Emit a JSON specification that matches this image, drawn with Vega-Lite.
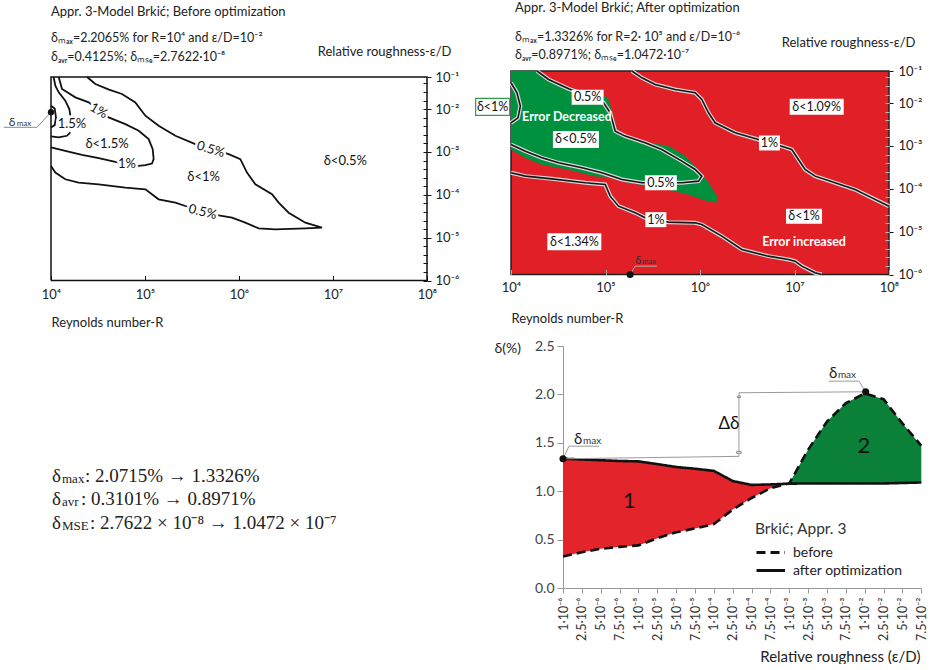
{
"$schema": "https://vega.github.io/schema/vega-lite/v6.json",
"background": "white",
"padding": {"left": 1, "top": 1, "right": 0, "bottom": 0},
"columns": 2,
"bounds": "flush",
"spacing": {"row": 65, "column": 84},
"resolve": {"legend": {"strokeDash": "independent", "shape": "independent"}},
"datasets": {
"tl_lines": [
{"curve":"A","seq":1,"logR":4.383,"logE":-1.25},{"curve":"A","seq":2,"logR":4.472,"logE":-1.413},{"curve":"A","seq":3,"logR":4.617,"logE":-1.546},{"curve":"A","seq":4,"logR":4.755,"logE":-1.647},{"curve":"A","seq":5,"logR":4.897,"logE":-1.842},{"curve":"A","seq":6,"logR":5.004,"logE":-2.154},{"curve":"A","seq":7,"logR":5.145,"logE":-2.388},{"curve":"A","seq":8,"logR":5.323,"logE":-2.622},{"curve":"A","seq":9,"logR":5.535,"logE":-2.817},{"curve":"A","seq":10,"logR":5.89,"logE":-3.051},{"curve":"A","seq":11,"logR":6.014,"logE":-3.168},{"curve":"A","seq":12,"logR":6.085,"logE":-3.48},{"curve":"A","seq":13,"logR":6.174,"logE":-3.754},{"curve":"A","seq":14,"logR":6.351,"logE":-3.988},{"curve":"A","seq":15,"logR":6.422,"logE":-4.183},{"curve":"A","seq":16,"logR":6.528,"logE":-4.417},{"curve":"A","seq":17,"logR":6.706,"logE":-4.651},{"curve":"A","seq":18,"logR":6.883,"logE":-4.768},{"curve":"A","seq":19,"logR":6.706,"logE":-4.783},{"curve":"A","seq":20,"logR":6.387,"logE":-4.807},{"curve":"A","seq":21,"logR":6.209,"logE":-4.783},{"curve":"A","seq":22,"logR":6.067,"logE":-4.651},{"curve":"A","seq":23,"logR":5.926,"logE":-4.534},{"curve":"A","seq":24,"logR":5.784,"logE":-4.479},{"curve":"A","seq":25,"logR":5.429,"logE":-4.261},{"curve":"A","seq":26,"logR":5.323,"logE":-4.183},{"curve":"A","seq":27,"logR":5.145,"logE":-4.105},{"curve":"A","seq":28,"logR":5.004,"logE":-3.871},{"curve":"A","seq":29,"logR":4.791,"logE":-3.832},{"curve":"A","seq":30,"logR":4.507,"logE":-3.754},{"curve":"A","seq":31,"logR":4.294,"logE":-3.715},{"curve":"A","seq":32,"logR":4.152,"logE":-3.637},{"curve":"A","seq":33,"logR":4.046,"logE":-3.48},{"curve":"A","seq":34,"logR":4.0,"logE":-3.325},
{"curve":"B","seq":1,"logR":4.082,"logE":-1.25},{"curve":"B","seq":2,"logR":4.117,"logE":-1.53},{"curve":"B","seq":3,"logR":4.259,"logE":-1.725},{"curve":"B","seq":4,"logR":4.401,"logE":-1.842},{"curve":"B","seq":5,"logR":4.613,"logE":-2.193},{"curve":"B","seq":6,"logR":4.791,"logE":-2.349},{"curve":"B","seq":7,"logR":4.933,"logE":-2.505},{"curve":"B","seq":8,"logR":5.039,"logE":-2.7},{"curve":"B","seq":9,"logR":5.082,"logE":-2.934},{"curve":"B","seq":10,"logR":5.092,"logE":-3.168},{"curve":"B","seq":11,"logR":5.074,"logE":-3.27},{"curve":"B","seq":12,"logR":5.004,"logE":-3.309},{"curve":"B","seq":13,"logR":4.933,"logE":-3.325},{"curve":"B","seq":14,"logR":4.684,"logE":-3.231},{"curve":"B","seq":15,"logR":4.507,"logE":-3.145},{"curve":"B","seq":16,"logR":4.33,"logE":-3.067},{"curve":"B","seq":17,"logR":4.152,"logE":-2.973},{"curve":"B","seq":18,"logR":4.0,"logE":-2.895},
{"curve":"C1","seq":1,"logR":4.028,"logE":-1.25},{"curve":"C1","seq":2,"logR":4.046,"logE":-1.452},{"curve":"C1","seq":3,"logR":4.082,"logE":-1.608},{"curve":"C1","seq":4,"logR":4.152,"logE":-1.803},{"curve":"C1","seq":5,"logR":4.195,"logE":-1.998},{"curve":"C1","seq":6,"logR":4.206,"logE":-2.154},
{"curve":"C2","seq":1,"logR":4.0,"logE":-2.638},{"curve":"C2","seq":2,"logR":4.082,"logE":-2.661},{"curve":"C2","seq":3,"logR":4.17,"logE":-2.622},{"curve":"C2","seq":4,"logR":4.206,"logE":-2.544},
{"curve":"C3","seq":1,"logR":4.0,"logE":-1.92},{"curve":"C3","seq":2,"logR":4.039,"logE":-1.983},{"curve":"C3","seq":3,"logR":4.053,"logE":-2.193},{"curve":"C3","seq":4,"logR":4.039,"logE":-2.373},{"curve":"C3","seq":5,"logR":4.0,"logE":-2.427}
],
"tl_frame": [
{"seq":1,"logR":4,"logE":-6},{"seq":2,"logR":4,"logE":-1.25},{"seq":3,"logR":8,"logE":-1.25},{"seq":4,"logR":8,"logE":-6},{"seq":5,"logR":4,"logE":-6}
],
"tl_labels": [
{"label":"1.5%","logR":4.223,"logE":-2.349},{"label":"δ<1.5%","logR":4.596,"logE":-2.817},{"label":"1%","logR":4.809,"logE":-3.285},{"label":"δ<1%","logR":5.624,"logE":-3.574},{"label":"δ<0.5%","logR":7.131,"logE":-3.207}
],
"tr_lines": [
{"curve":"U","seq":1,"logR":4.275,"logE":-1.25},{"curve":"U","seq":2,"logR":4.398,"logE":-1.447},{"curve":"U","seq":3,"logR":4.61,"logE":-1.665},{"curve":"U","seq":4,"logR":4.68,"logE":-1.72},{"curve":"U","seq":5,"logR":4.98,"logE":-1.992},{"curve":"U","seq":6,"logR":5.05,"logE":-2.226},{"curve":"U","seq":7,"logR":5.103,"logE":-2.654},{"curve":"U","seq":8,"logR":5.209,"logE":-2.77},{"curve":"U","seq":9,"logR":5.42,"logE":-2.926},{"curve":"U","seq":10,"logR":5.596,"logE":-3.082},{"curve":"U","seq":11,"logR":5.808,"logE":-3.354},{"curve":"U","seq":12,"logR":5.949,"logE":-3.549},{"curve":"U","seq":13,"logR":6.019,"logE":-3.704},{"curve":"U","seq":14,"logR":5.984,"logE":-3.821},{"curve":"U","seq":15,"logR":5.808,"logE":-3.86},{"curve":"U","seq":16,"logR":5.596,"logE":-3.86},{"curve":"U","seq":17,"logR":5.385,"logE":-3.86},{"curve":"U","seq":18,"logR":5.174,"logE":-3.782},{"curve":"U","seq":19,"logR":4.962,"logE":-3.626},{"curve":"U","seq":20,"logR":4.751,"logE":-3.51},{"curve":"U","seq":21,"logR":4.504,"logE":-3.393},{"curve":"U","seq":22,"logR":4.328,"logE":-3.276},{"curve":"U","seq":23,"logR":4.152,"logE":-3.121},{"curve":"U","seq":24,"logR":4.0,"logE":-2.965},
{"curve":"L1","seq":1,"logR":4.0,"logE":-3.626},{"curve":"L1","seq":2,"logR":4.152,"logE":-3.704},{"curve":"L1","seq":3,"logR":4.433,"logE":-3.767},{"curve":"L1","seq":4,"logR":4.786,"logE":-3.86},{"curve":"L1","seq":5,"logR":4.997,"logE":-3.899},{"curve":"L1","seq":6,"logR":5.05,"logE":-4.171},{"curve":"L1","seq":7,"logR":5.138,"logE":-4.405},{"curve":"L1","seq":8,"logR":5.315,"logE":-4.56},{"curve":"L1","seq":9,"logR":5.42,"logE":-4.677},{"curve":"L1","seq":10,"logR":5.667,"logE":-4.778},{"curve":"L1","seq":11,"logR":5.949,"logE":-4.794},{"curve":"L1","seq":12,"logR":6.019,"logE":-4.833},{"curve":"L1","seq":13,"logR":6.231,"logE":-5.105},{"curve":"L1","seq":14,"logR":6.442,"logE":-5.416},{"curve":"L1","seq":15,"logR":6.724,"logE":-5.572},{"curve":"L1","seq":16,"logR":6.936,"logE":-5.65},{"curve":"L1","seq":17,"logR":7.006,"logE":-5.689},{"curve":"L1","seq":18,"logR":7.077,"logE":-5.805},{"curve":"L1","seq":19,"logR":7.218,"logE":-5.961},{"curve":"L1","seq":20,"logR":7.288,"logE":-6.0},
{"curve":"U1","seq":1,"logR":5.279,"logE":-1.25},{"curve":"U1","seq":2,"logR":5.385,"logE":-1.409},{"curve":"U1","seq":3,"logR":5.526,"logE":-1.564},{"curve":"U1","seq":4,"logR":5.737,"logE":-1.681},{"curve":"U1","seq":5,"logR":5.949,"logE":-1.759},{"curve":"U1","seq":6,"logR":6.019,"logE":-1.914},{"curve":"U1","seq":7,"logR":6.09,"logE":-2.226},{"curve":"U1","seq":8,"logR":6.16,"logE":-2.459},{"curve":"U1","seq":9,"logR":6.372,"logE":-2.693},{"curve":"U1","seq":10,"logR":6.618,"logE":-2.848},{"curve":"U1","seq":11,"logR":6.865,"logE":-3.004},{"curve":"U1","seq":12,"logR":6.971,"logE":-3.082},{"curve":"U1","seq":13,"logR":7.041,"logE":-3.315},{"curve":"U1","seq":14,"logR":7.112,"logE":-3.549},{"curve":"U1","seq":15,"logR":7.218,"logE":-3.704},{"curve":"U1","seq":16,"logR":7.429,"logE":-3.86},{"curve":"U1","seq":17,"logR":7.641,"logE":-4.016},{"curve":"U1","seq":18,"logR":7.782,"logE":-4.171},{"curve":"U1","seq":19,"logR":8.0,"logE":-4.405},
{"curve":"LF","seq":1,"logR":4.0,"logE":-1.525},{"curve":"LF","seq":2,"logR":4.063,"logE":-1.759},{"curve":"LF","seq":3,"logR":4.099,"logE":-2.07},{"curve":"LF","seq":4,"logR":4.074,"logE":-2.342},{"curve":"LF","seq":5,"logR":4.0,"logE":-2.459}
],
"tr_green": [
{"seq":1,"logR":4.0,"logE":-1.25},{"seq":2,"logR":4.275,"logE":-1.25},{"seq":3,"logR":4.398,"logE":-1.447},{"seq":4,"logR":4.61,"logE":-1.642},{"seq":5,"logR":4.751,"logE":-1.72},{"seq":6,"logR":4.962,"logE":-1.798},{"seq":7,"logR":5.033,"logE":-1.914},{"seq":8,"logR":5.068,"logE":-2.226},{"seq":9,"logR":5.121,"logE":-2.615},{"seq":10,"logR":5.244,"logE":-2.809},{"seq":11,"logR":5.456,"logE":-2.926},{"seq":12,"logR":5.667,"logE":-3.004},{"seq":13,"logR":5.843,"logE":-3.237},{"seq":14,"logR":5.984,"logE":-3.549},{"seq":15,"logR":6.09,"logE":-3.86},{"seq":16,"logR":6.178,"logE":-4.171},{"seq":17,"logR":6.178,"logE":-4.311},{"seq":18,"logR":6.09,"logE":-4.288},{"seq":19,"logR":5.878,"logE":-4.132},{"seq":20,"logR":5.667,"logE":-4.016},{"seq":21,"logR":5.456,"logE":-3.922},{"seq":22,"logR":5.244,"logE":-3.86},{"seq":23,"logR":5.033,"logE":-3.72},{"seq":24,"logR":4.892,"logE":-3.704},{"seq":25,"logR":4.61,"logE":-3.549},{"seq":26,"logR":4.328,"logE":-3.432},{"seq":27,"logR":4.152,"logE":-3.276},{"seq":28,"logR":4.0,"logE":-3.082}
],
"tr_labels": [
{"label":"0.5%","logR":4.811,"logE":-1.86},{"label":"δ<0.5%","logR":4.687,"logE":-2.848},{"label":"0.5%","logR":5.586,"logE":-3.86},{"label":"δ<1.09%","logR":7.235,"logE":-2.086},{"label":"1%","logR":6.735,"logE":-2.93},{"label":"δ<1%","logR":7.101,"logE":-4.638},{"label":"1%","logR":5.533,"logE":-4.72},{"label":"δ<1.34%","logR":4.67,"logE":-5.237},{"label":"δ<1%","logR":3.806,"logE":-2.086}
],
"br": [
{"i":0,"eps":"1·10⁻⁶","before":0.325,"after":1.335},{"i":1,"eps":"2.5·10⁻⁶","before":0.37,"after":1.328},{"i":2,"eps":"5·10⁻⁶","before":0.405,"after":1.32},{"i":3,"eps":"7.5·10⁻⁶","before":0.425,"after":1.312},{"i":4,"eps":"1·10⁻⁵","before":0.44,"after":1.308},{"i":5,"eps":"2.5·10⁻⁵","before":0.515,"after":1.28},{"i":6,"eps":"5·10⁻⁵","before":0.575,"after":1.25},{"i":7,"eps":"7.5·10⁻⁵","before":0.615,"after":1.232},{"i":8,"eps":"1·10⁻⁴","before":0.66,"after":1.21},{"i":9,"eps":"2.5·10⁻⁴","before":0.81,"after":1.105},{"i":10,"eps":"5·10⁻⁴","before":0.93,"after":1.065},{"i":11,"eps":"7.5·10⁻⁴","before":1.03,"after":1.07},{"i":12,"eps":"1·10⁻³","before":1.08,"after":1.078},{"i":13,"eps":"2.5·10⁻³","before":1.43,"after":1.08},{"i":14,"eps":"5·10⁻³","before":1.72,"after":1.08},{"i":15,"eps":"7.5·10⁻³","before":1.91,"after":1.08},{"i":16,"eps":"1·10⁻²","before":2.01,"after":1.08},{"i":17,"eps":"2.5·10⁻²","before":1.95,"after":1.08},{"i":18,"eps":"5·10⁻²","before":1.7,"after":1.085},{"i":19,"eps":"7.5·10⁻²","before":1.47,"after":1.09}
],
"br_ann": [
{"g":"lead1","s":1,"i":0,"v":1.335},{"g":"lead1","s":2,"i":0.32,"v":1.465},{"g":"lead1","s":3,"i":1.91,"v":1.465},
{"g":"lead2","s":1,"i":16.05,"v":2.027},{"g":"lead2","s":2,"i":15.69,"v":2.137},{"g":"lead2","s":3,"i":14.1,"v":2.137},
{"g":"dlow","s":1,"i":0,"v":1.335},{"g":"dlow","s":2,"i":9.33,"v":1.36},
{"g":"dup","s":1,"i":9.33,"v":2.017},{"g":"dup","s":2,"i":16.05,"v":2.027},
{"g":"dv","s":1,"i":9.33,"v":1.36},{"g":"dv","s":2,"i":9.33,"v":2.017}
],
"notes": [
{"line":1,"sub":"max","rest":": 2.0715% → 1.3326%"},
{"line":2,"sub":"avr","rest":": 0.3101% → 0.8971%"},
{"line":3,"sub":"MSE","rest":": 2.7622 × 10⁻⁸ → 1.0472 × 10⁻⁷"}
]
},
"concat": [
  {"width": 376, "height": 209.5,
   "title": {"text": "Appr. 3-Model Brkić; Before optimization", "subtitle": ["δₘₐₓ=2.2065% for R=10⁴ and ε/D=10⁻²", "δₐᵥᵣ=0.4125%; δₘₛₑ=2.7622·10⁻⁸"], "anchor": "start", "frame": "group", "offset": -18, "fontSize": 13, "fontWeight": "normal", "color": "#222", "subtitleFontSize": 12.5, "subtitleColor": "#222", "subtitleLineHeight": 19, "subtitlePadding": 13},
   "resolve": {"axis": {"y": "independent"}},
   "encoding": {
    "x": {"field": "logR", "type": "quantitative", "scale": {"domain": [4, 8], "nice": false, "zero": false},
      "axis": {"values": [4,5,6,7,8], "labelExpr": "['10⁴','10⁵','10⁶','10⁷','10⁸'][round(datum.value) - 4]", "tickSize": -5, "tickColor": "#111", "domain": false, "labelPadding": 12.5, "labelFontSize": 13, "labelColor": "#222", "title": "Reynolds number-R", "titleX": 0, "titleY": 42, "titleAlign": "left", "titleBaseline": "middle", "titleFontSize": 13, "titleFontWeight": "normal", "titleColor": "#222"}},
    "y": {"field": "logE", "type": "quantitative", "scale": {"domain": [-6, -1.25], "range": [209.5, 6], "nice": false, "zero": false}, "axis": null}
   },
   "layer": [
    {"data": {"name": "tl_frame"}, "mark": {"type": "line", "color": "#111", "strokeWidth": 1.5},
     "encoding": {"order": {"field": "seq", "type": "quantitative"},
      "y": {"field": "logE", "type": "quantitative", "scale": {"domain": [-6, -1.25], "range": [209.5, 6], "nice": false, "zero": false},
       "axis": {"orient": "right", "values": [-6,-5,-4,-3,-2,-1.25], "labelExpr": "['10⁻⁶','10⁻⁵','10⁻⁴','10⁻³','10⁻²','10⁻¹'][round(datum.value) + 6]", "tickSize": 4, "tickColor": "#111", "domain": false, "labelPadding": 4, "labelFontSize": 13, "labelColor": "#222", "labelBaseline": "middle", "title": "Relative roughness-ε/D", "titleAngle": 0, "titleX": 24, "titleY": -20, "titleAlign": "right", "titleBaseline": "middle", "titleFontSize": 13, "titleFontWeight": "normal", "titleColor": "#222"}}}},
    {"data": {"name": "tl_lines"}, "mark": {"type": "line", "color": "#111", "strokeWidth": 1.8},
     "encoding": {"detail": {"field": "curve"}, "order": {"field": "seq", "type": "quantitative"},
      "y": {"field": "logE", "type": "quantitative", "scale": {"domain": [-6, -1.25], "range": [209.5, 6], "nice": false, "zero": false},
       "axis": {"orient": "right", "values": [-6,-5.8,-5.6,-5.4,-5.2,-5,-4.8,-4.6,-4.4,-4.2,-4,-3.8,-3.6,-3.4,-3.2,-3,-2.8,-2.6,-2.4,-2.2,-2,-1.8,-1.6,-1.4], "tickSize": -4, "tickColor": "#111", "labels": false, "domain": false, "title": null}}}},
    {"data": {"name": "tl_labels"}, "mark": {"type": "text", "fontSize": 13, "stroke": "white", "strokeWidth": 5, "fill": "white", "strokeJoin": "round"}, "encoding": {"text": {"field": "label"}}},
    {"data": {"name": "tl_labels"}, "mark": {"type": "text", "fontSize": 13, "color": "#111"}, "encoding": {"text": {"field": "label"}}},
    {"data": {"values": [{"label": "1%", "logR": 4.507, "logE": -2.04}]}, "mark": {"type": "text", "fontSize": 13, "angle": 30, "stroke": "white", "strokeWidth": 5, "fill": "white"}, "encoding": {"text": {"field": "label"}}},
    {"data": {"values": [{"label": "1%", "logR": 4.507, "logE": -2.04}]}, "mark": {"type": "text", "fontSize": 13, "angle": 30, "color": "#111"}, "encoding": {"text": {"field": "label"}}},
    {"data": {"values": [{"label": "0.5%", "logR": 5.7, "logE": -2.94}]}, "mark": {"type": "text", "fontSize": 13, "angle": 17, "stroke": "white", "strokeWidth": 5, "fill": "white"}, "encoding": {"text": {"field": "label"}}},
    {"data": {"values": [{"label": "0.5%", "logR": 5.7, "logE": -2.94}]}, "mark": {"type": "text", "fontSize": 13, "angle": 17, "color": "#111"}, "encoding": {"text": {"field": "label"}}},
    {"data": {"values": [{"label": "0.5%", "logR": 5.613, "logE": -4.4}]}, "mark": {"type": "text", "fontSize": 13, "angle": 14, "stroke": "white", "strokeWidth": 5, "fill": "white"}, "encoding": {"text": {"field": "label"}}},
    {"data": {"values": [{"label": "0.5%", "logR": 5.613, "logE": -4.4}]}, "mark": {"type": "text", "fontSize": 13, "angle": 14, "color": "#111"}, "encoding": {"text": {"field": "label"}}},
    {"data": {"values": [{"seq": 1, "logR": 4.0, "logE": -2.07}, {"seq": 2, "logR": 3.851, "logE": -2.424}, {"seq": 3, "logR": 3.497, "logE": -2.424}]}, "mark": {"type": "line", "color": "#8a8a8a", "strokeWidth": 1}, "encoding": {"order": {"field": "seq", "type": "quantitative"}}},
    {"data": {"values": [{"logR": 4.0, "logE": -2.07}]}, "mark": {"type": "point", "filled": true, "color": "#111", "size": 40, "opacity": 1}},
    {"data": {"values": [{"logR": 3.55, "logE": -2.389}]}, "mark": {"type": "text", "align": "left", "baseline": "alphabetic", "fontSize": 12, "color": "#333"}, "encoding": {"text": {"value": "δ"}}},
    {"data": {"values": [{"logR": 3.55, "logE": -2.389}]}, "mark": {"type": "text", "align": "left", "baseline": "alphabetic", "fontSize": 8, "dx": 8, "color": "#333"}, "encoding": {"text": {"value": "max"}}}
   ]},
  {"width": 378, "height": 203.5,
   "title": {"text": "Appr. 3-Model Brkić; After optimization", "subtitle": ["δₘₐₓ=1.3326% for R=2· 10⁵ and ε/D=10⁻⁶", "δₐᵥᵣ=0.8971%; δₘₛₑ=1.0472·10⁻⁷"], "anchor": "start", "frame": "group", "offset": -25, "dx": 4, "fontSize": 13, "fontWeight": "normal", "color": "#222", "subtitleFontSize": 12.5, "subtitleColor": "#222", "subtitleLineHeight": 17.5, "subtitlePadding": 16},
   "view": {"stroke": "#222", "strokeWidth": 1.5, "fill": "#e11f26"},
   "resolve": {"axis": {"y": "independent"}},
   "encoding": {
    "x": {"field": "logR", "type": "quantitative", "scale": {"domain": [4, 8], "nice": false, "zero": false},
      "axis": {"values": [4,5,6,7,8], "labelExpr": "['10⁴','10⁵','10⁶','10⁷','10⁸'][round(datum.value) - 4]", "tickSize": -5, "tickColor": "#aaa", "domain": false, "labelPadding": 12, "labelFontSize": 13, "labelColor": "#222", "title": "Reynolds number-R", "titleX": 0, "titleY": 44, "titleAlign": "left", "titleBaseline": "middle", "titleFontSize": 13, "titleFontWeight": "normal", "titleColor": "#222"}},
    "y": {"field": "logE", "type": "quantitative", "scale": {"domain": [-6, -1.25], "nice": false, "zero": false}, "axis": null}
   },
   "layer": [
    {"data": {"name": "tr_green"}, "mark": {"type": "line", "fill": "#00913f", "stroke": "#00913f", "strokeWidth": 0.5},
     "encoding": {"order": {"field": "seq", "type": "quantitative"},
      "y": {"field": "logE", "type": "quantitative", "scale": {"domain": [-6, -1.25], "nice": false, "zero": false},
       "axis": {"orient": "right", "values": [-6,-5,-4,-3,-2,-1.25], "labelExpr": "['10⁻⁶','10⁻⁵','10⁻⁴','10⁻³','10⁻²','10⁻¹'][round(datum.value) + 6]", "tickSize": 4, "tickColor": "#111", "domain": false, "labelPadding": 5, "labelFontSize": 13, "labelColor": "#222", "labelBaseline": "middle", "title": "Relative roughness-ε/D", "titleAngle": 0, "titleX": 26, "titleY": -29, "titleAlign": "right", "titleBaseline": "middle", "titleFontSize": 13, "titleFontWeight": "normal", "titleColor": "#222"}}}},
    {"data": {"name": "tr_lines"}, "mark": {"type": "line", "color": "#d8d8d8", "strokeWidth": 4},
     "encoding": {"detail": {"field": "curve"}, "order": {"field": "seq", "type": "quantitative"},
      "y": {"field": "logE", "type": "quantitative", "scale": {"domain": [-6, -1.25], "nice": false, "zero": false},
       "axis": {"orient": "right", "values": [-6,-5.8,-5.6,-5.4,-5.2,-5,-4.8,-4.6,-4.4,-4.2,-4,-3.8,-3.6,-3.4,-3.2,-3,-2.8,-2.6,-2.4,-2.2,-2,-1.8,-1.6,-1.4], "tickSize": -4, "tickColor": "#bbb", "labels": false, "domain": false, "title": null}}}},
    {"data": {"name": "tr_lines"}, "mark": {"type": "line", "color": "#161616", "strokeWidth": 1.6},
     "encoding": {"detail": {"field": "curve"}, "order": {"field": "seq", "type": "quantitative"}}},
    {"data": {"name": "tr_labels"}, "transform": [{"filter": "datum.logR >= 4"}],
     "mark": {"type": "point", "filled": true, "color": "white", "size": 3600, "opacity": 1, "strokeWidth": 0},
     "encoding": {"shape": {"field": "label", "type": "nominal", "legend": null,
       "scale": {"domain": ["0.5%", "δ<0.5%", "δ<1.09%", "1%", "δ<1%", "δ<1.34%"],
        "range": ["M-0.533,-0.25H0.533V0.25H-0.533Z", "M-0.767,-0.283H0.767V0.283H-0.767Z", "M-0.9,-0.267H0.9V0.267H-0.9Z", "M-0.35,-0.25H0.35V0.25H-0.35Z", "M-0.6,-0.25H0.6V0.25H-0.6Z", "M-0.9,-0.283H0.9V0.283H-0.9Z"]}}}},
    {"data": {"name": "tr_labels"}, "transform": [{"filter": "datum.logR < 4"}],
     "mark": {"type": "point", "shape": "M-0.567,-0.283H0.567V0.283H-0.567Z", "size": 3600, "filled": true, "fill": "white", "stroke": "#2e9e4a", "strokeWidth": 1.2, "opacity": 1}},
    {"data": {"name": "tr_labels"}, "mark": {"type": "text", "fontSize": 12.5, "color": "#111"}, "encoding": {"text": {"field": "label"}}},
    {"data": {"values": [{"t": "Error Decreased", "logR": 4.592, "logE": -2.327}, {"t": "Error increased", "logR": 7.101, "logE": -5.237}]},
     "mark": {"type": "text", "fontSize": 12.5, "fontWeight": "bold", "color": "white"}, "encoding": {"text": {"field": "t"}}},
    {"data": {"values": [{"seq": 1, "logR": 5.26, "logE": -6.0}, {"seq": 2, "logR": 5.315, "logE": -5.805}, {"seq": 3, "logR": 5.544, "logE": -5.805}]}, "mark": {"type": "line", "color": "#b0b0b0", "strokeWidth": 1}, "encoding": {"order": {"field": "seq", "type": "quantitative"}}},
    {"data": {"values": [{"logR": 5.26, "logE": -6.0}]}, "mark": {"type": "point", "filled": true, "color": "#111", "size": 49, "opacity": 1}},
    {"data": {"values": [{"logR": 5.315, "logE": -5.76}]}, "mark": {"type": "text", "align": "left", "baseline": "alphabetic", "fontSize": 11, "color": "#333"}, "encoding": {"text": {"value": "δ"}}},
    {"data": {"values": [{"logR": 5.315, "logE": -5.76}]}, "mark": {"type": "text", "align": "left", "baseline": "alphabetic", "fontSize": 7.5, "dx": 7, "color": "#333"}, "encoding": {"text": {"value": "max"}}}
   ]},
 {"width": 376, "height": 242, "data": {"name": "notes"},
  "encoding": {
   "x": {"datum": 0, "type": "quantitative", "scale": {"domain": [0, 1]}, "axis": null},
   "y": {"field": "line", "type": "quantitative", "scale": {"domain": [-4.77, 5.515], "reverse": true, "nice": false, "zero": false}, "axis": null}
  },
  "layer": [
   {"mark": {"type": "text", "align": "left", "baseline": "alphabetic", "font": "Liberation Serif", "fontSize": 19, "dx": 1, "color": "#222"}, "encoding": {"text": {"value": "δ"}}},
   {"mark": {"type": "text", "align": "left", "baseline": "alphabetic", "font": "Liberation Serif", "fontSize": 13, "dx": 11, "dy": 1, "color": "#222"}, "encoding": {"text": {"field": "sub"}}},
   {"transform": [{"filter": "datum.line == 1"}], "mark": {"type": "text", "align": "left", "baseline": "alphabetic", "font": "Liberation Serif", "fontSize": 19, "dx": 34, "color": "#222"}, "encoding": {"text": {"field": "rest"}}},
   {"transform": [{"filter": "datum.line == 2"}], "mark": {"type": "text", "align": "left", "baseline": "alphabetic", "font": "Liberation Serif", "fontSize": 19, "dx": 30, "color": "#222"}, "encoding": {"text": {"field": "rest"}}},
   {"transform": [{"filter": "datum.line == 3"}], "mark": {"type": "text", "align": "left", "baseline": "alphabetic", "font": "Liberation Serif", "fontSize": 19, "dx": 39, "color": "#222"}, "encoding": {"text": {"field": "rest"}}}
  ]},
 {"width": 410.3, "height": 242,
  "encoding": {
   "x": {"field": "i", "type": "quantitative", "scale": {"domain": [0, 19], "range": [52, 410.3], "nice": false, "zero": false},
    "axis": {"values": [0,1,2,3,4,5,6,7,8,9,10,11,12,13,14,15,16,17,18,19],
     "labelExpr": "['1·10⁻⁶','2.5·10⁻⁶','5·10⁻⁶','7.5·10⁻⁶','1·10⁻⁵','2.5·10⁻⁵','5·10⁻⁵','7.5·10⁻⁵','1·10⁻⁴','2.5·10⁻⁴','5·10⁻⁴','7.5·10⁻⁴','1·10⁻³','2.5·10⁻³','5·10⁻³','7.5·10⁻³','1·10⁻²','2.5·10⁻²','5·10⁻²','7.5·10⁻²'][round(datum.value)]",
     "labelAngle": -90, "labelFontSize": 12.5, "labelColor": "#333", "labelPadding": 4, "tickSize": 5, "tickColor": "#999", "domainColor": "#999",
     "title": "Relative roughness (ε/D)", "titleX": 409, "titleY": 68, "titleAlign": "right", "titleBaseline": "middle", "titleFontSize": 15, "titleFontWeight": "normal", "titleColor": "#222"}}
  },
  "layer": [
   {"data": {"name": "br"}, "transform": [{"filter": "datum.i <= 12"}], "mark": {"type": "area", "color": "#e3242b", "opacity": 1},
    "encoding": {"y": {"field": "before", "type": "quantitative", "scale": {"domain": [0, 2.5], "nice": false, "zero": false},
      "axis": {"offset": -52, "values": [0, 0.5, 1, 1.5, 2, 2.5], "format": ".1f", "tickSize": 6, "tickColor": "#999", "domainColor": "#999", "labelFontSize": 14, "labelColor": "#444", "labelPadding": 3,
       "title": "δ(%)", "titleAngle": 0, "titleX": -69, "titleY": 2, "titleAlign": "left", "titleBaseline": "middle", "titleFontSize": 14, "titleFontWeight": "normal", "titleColor": "#222"}},
     "y2": {"field": "after"}}},
   {"data": {"name": "br"}, "transform": [{"filter": "datum.i >= 12"}], "mark": {"type": "area", "color": "#0a8038", "opacity": 1},
    "encoding": {"y": {"field": "before", "type": "quantitative", "scale": {"domain": [0, 2.5], "nice": false, "zero": false}}, "y2": {"field": "after"}}},
   {"data": {"name": "br"}, "transform": [{"fold": ["before", "after"], "as": ["series", "delta"]}],
    "mark": {"type": "line", "color": "#111", "strokeWidth": 2.6},
    "encoding": {"y": {"field": "delta", "type": "quantitative", "scale": {"domain": [0, 2.5], "nice": false, "zero": false}},
     "strokeDash": {"field": "series", "type": "nominal", "scale": {"domain": ["before", "after"], "range": [[9, 5], [1, 0]]},
      "legend": {"title": "Brkić; Appr. 3", "orient": "none", "legendX": 244, "legendY": 176, "padding": 0, "symbolType": "M-1,0H2", "symbolSize": 361, "symbolStrokeWidth": 3, "symbolStrokeColor": "#111", "symbolFillColor": "transparent", "labelFontSize": 14, "labelColor": "#222", "labelOffset": 16, "labelLimit": 200, "rowPadding": 0, "titleFontSize": 15.5, "titleFontWeight": "normal", "titleColor": "#333", "titlePadding": 4, "labelExpr": "datum.label == 'after' ? 'after optimization' : datum.label"}}}},
   {"data": {"name": "br_ann"}, "mark": {"type": "line", "color": "#9a9a9a", "strokeWidth": 1},
    "encoding": {"detail": {"field": "g"}, "order": {"field": "s", "type": "quantitative"}, "y": {"field": "v", "type": "quantitative", "scale": {"domain": [0, 2.5], "nice": false, "zero": false}}}},
   {"data": {"values": [{"dir": "up", "i": 9.33, "v": 1.975}, {"dir": "down", "i": 9.33, "v": 1.4}]},
    "mark": {"type": "point", "filled": true, "fill": "white", "stroke": "#888", "strokeWidth": 1, "size": 36, "opacity": 1},
    "encoding": {"y": {"field": "v", "type": "quantitative", "scale": {"domain": [0, 2.5], "nice": false, "zero": false}},
     "shape": {"field": "dir", "type": "nominal", "legend": null, "scale": {"domain": ["up", "down"], "range": ["triangle-up", "triangle-down"]}}}},
   {"data": {"values": [{"i": 0, "v": 1.335}, {"i": 16.05, "v": 2.027}]},
    "mark": {"type": "point", "filled": true, "color": "#111", "size": 50, "opacity": 1},
    "encoding": {"y": {"field": "v", "type": "quantitative", "scale": {"domain": [0, 2.5], "nice": false, "zero": false}}}},
   {"data": {"values": [{"t": "1", "i": 3.5, "v": 0.897}, {"t": "2", "i": 15.96, "v": 1.465}]},
    "mark": {"type": "text", "fontSize": 22, "color": "#111"},
    "encoding": {"text": {"field": "t"}, "y": {"field": "v", "type": "quantitative", "scale": {"domain": [0, 2.5], "nice": false, "zero": false}}}},
   {"data": {"values": [{"t": "Δδ", "i": 8.8, "v": 1.69}]},
    "mark": {"type": "text", "fontSize": 17, "color": "#111"},
    "encoding": {"text": {"field": "t"}, "y": {"field": "v", "type": "quantitative", "scale": {"domain": [0, 2.5], "nice": false, "zero": false}}}},
   {"data": {"values": [{"i": 0.58, "v": 1.486}, {"i": 14.1, "v": 2.17}]},
    "mark": {"type": "text", "align": "left", "baseline": "alphabetic", "fontSize": 15, "color": "#222"},
    "encoding": {"text": {"value": "δ"}, "y": {"field": "v", "type": "quantitative", "scale": {"domain": [0, 2.5], "nice": false, "zero": false}}}},
   {"data": {"values": [{"i": 0.58, "v": 1.486}, {"i": 14.1, "v": 2.17}]},
    "mark": {"type": "text", "align": "left", "baseline": "alphabetic", "fontSize": 10, "dx": 9, "color": "#333"},
    "encoding": {"text": {"value": "max"}, "y": {"field": "v", "type": "quantitative", "scale": {"domain": [0, 2.5], "nice": false, "zero": false}}}}
  ]}
],
"config": {
 "view": {"stroke": null},
 "font": "Lato",
 "axis": {"grid": false, "labelFont": "Lato", "titleFont": "Lato", "labelOverlap": false, "labelFlush": false},
 "legend": {"labelFont": "Lato", "titleFont": "Lato"},
 "title": {"font": "Lato", "subtitleFont": "Lato"},
 "text": {"font": "Lato"}
}
}
